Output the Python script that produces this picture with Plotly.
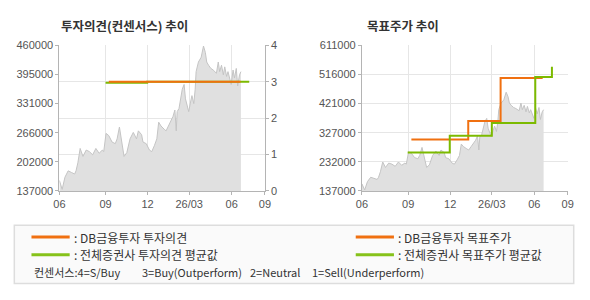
import plotly.graph_objects as go
import pandas as pd

W, H = 590, 300

# ---------------- data ----------------
base_date = pd.Timestamp("2025-05-24")

# daily close (day offset from base_date, price in KRW)
price_days = [0, 6, 12, 19, 26, 33, 36, 40, 45, 51, 58, 65, 72, 79, 86, 93, 96,
              101, 107, 114, 121, 125, 130, 135, 140, 146, 153, 160, 167, 171, 178,
              181, 188, 195, 200, 206, 211, 215, 220, 227, 231, 236, 241, 246, 250,
              253, 255, 259, 266, 270, 273, 280, 284, 287, 291, 294, 296, 301, 307,
              312, 316, 319, 323, 328, 333, 340, 344, 347, 351, 355, 358, 362, 365,
              369, 372, 376, 379, 383, 386, 390, 393]
price_vals = [160400, 140500, 167500, 181700, 178200, 174600, 181700, 199500, 231400,
              213600, 227800, 224300, 217200, 231400, 220700, 227800, 224300,
              264700, 259800, 245600, 242000, 252700, 278900, 245600, 213600, 222200,
              252700, 266900, 252700, 270400, 261900, 245600, 242000, 227800, 224300,
              238500, 252700, 289600, 281100, 274000, 270400, 281100, 291700, 302400,
              316600, 270400, 313000, 320100, 362700, 373300, 341400, 313000, 334300,
              348500, 330700, 362700, 401700, 423000, 433700, 458500, 444300, 423000,
              415900, 408800, 405300, 398200, 423000, 401700, 415900, 394600, 412300,
              391100, 401700, 384000, 373300, 405300, 387500, 408800, 369800, 394600,
              401700]

# investment opinion (4=S/Buy ... 1=Sell)
op_db_days = [107, 392]
op_db_vals = [3.0, 3.0]
op_avg_days = [100, 190, 411]
op_avg_vals = [2.97, 3.0, 3.0]

# target price
tp_db_days = [107, 230, 300, 391]
tp_db_vals = [305000, 365000, 505000, 505000]
tp_avg_days = [99, 190, 281, 375, 411]
tp_avg_vals = [262000, 317000, 358000, 508000, 541000]

# axes
x_tick_dates = ["2025-05-24", "2025-09-01", "2025-12-01", "2026-03-01", "2026-06-01", "2026-08-12"]
x_tick_text = ["06", "09", "12", "26/03", "06", "09"]
x_range = ["2025-05-24", "2026-08-12"]

op_price_ticks = [137000, 201600, 266200, 330800, 395400, 460000]
op_price_text = ["137000", "202000", "266000", "331000", "395000", "460000"]
op_ticks = [0, 1, 2, 3, 4]

tp_price_ticks = [137000, 231800, 326600, 421400, 516200, 611000]
tp_price_text = ["137000", "232000", "327000", "421000", "516000", "611000"]

title_left = "투자의견(컨센서스) 추이"
title_right = "목표주가 추이"
legend_names = [": DB금융투자 투자의견", ": 전체증권사 투자의견 평균값",
                ": DB금융투자 목표주가", ": 전체증권사 목표주가 평균값"]
consensus_parts = ["컨센서스:4=S/Buy", "3=Buy(Outperform)", "2=Neutral", "1=Sell(Underperform)"]

# ---------------- styles ----------------
ORANGE = "#f07010"
GREEN = "#7cba00"
GREEN_LEG = "#86c21a"
AREA_FILL = "#e0e0e0"
AREA_LINE = "#c4c4c4"
GRID = "#e6e6e6"
AXIS = "#b4b4b4"
TICK_FONT = dict(family="Liberation Sans, Noto Sans CJK KR", size=11, color="#555555")
KFONT = "Noto Sans CJK KR, Liberation Sans"


def px(x):
    return x / W


def py(y):
    return 1 - y / H


def to_dates(days):
    return [base_date + pd.Timedelta(days=d) for d in days]


pdates = to_dates(price_days)

fig = go.Figure()

# ---- left chart: opinion ----
fig.add_trace(go.Scatter(x=pdates, y=price_vals, mode="lines", fill="tozeroy",
                         fillcolor=AREA_FILL, line=dict(color=AREA_LINE, width=1),
                         xaxis="x", yaxis="y", showlegend=False, hoverinfo="skip"))
fig.add_trace(go.Scatter(x=to_dates(op_avg_days), y=op_avg_vals, mode="lines",
                         line=dict(color=GREEN, width=2, shape="hv"),
                         xaxis="x", yaxis="y2", showlegend=False))
fig.add_trace(go.Scatter(x=to_dates(op_db_days), y=op_db_vals, mode="lines",
                         line=dict(color=ORANGE, width=2, shape="hv"),
                         xaxis="x", yaxis="y2", showlegend=False))

# ---- right chart: target price ----
fig.add_trace(go.Scatter(x=pdates, y=price_vals, mode="lines", fill="tozeroy",
                         fillcolor=AREA_FILL, line=dict(color=AREA_LINE, width=1),
                         xaxis="x2", yaxis="y3", showlegend=False, hoverinfo="skip"))
fig.add_trace(go.Scatter(x=to_dates(tp_db_days), y=tp_db_vals, mode="lines",
                         line=dict(color=ORANGE, width=2, shape="hv"),
                         xaxis="x2", yaxis="y3", showlegend=False))
fig.add_trace(go.Scatter(x=to_dates(tp_avg_days), y=tp_avg_vals, mode="lines",
                         line=dict(color=GREEN, width=2, shape="hv"),
                         xaxis="x2", yaxis="y3", showlegend=False))

y_dom = [py(192.7), py(41)]
common_x = dict(type="date", range=x_range, tickvals=x_tick_dates, ticktext=x_tick_text,
                showgrid=True, gridcolor=GRID, gridwidth=1, showline=True, linecolor=AXIS,
                ticks="outside", ticklen=3, tickcolor=AXIS, tickfont=TICK_FONT,
                zeroline=False, fixedrange=True)

fig.update_layout(
    width=W, height=H, margin=dict(l=0, r=0, t=0, b=0),
    paper_bgcolor="white", plot_bgcolor="white", showlegend=False,
    xaxis=dict(domain=[px(54.5), px(264.3)], anchor="y", **common_x),
    yaxis=dict(domain=y_dom, anchor="x", range=[137000, 460000], tickvals=op_price_ticks,
               ticktext=op_price_text, showgrid=False, showline=True, linecolor=AXIS,
               ticks="outside", ticklen=3, tickcolor=AXIS, tickfont=TICK_FONT, zeroline=False),
    yaxis2=dict(overlaying="y", side="right", anchor="x", range=[0, 4], tickvals=op_ticks,
                showgrid=True, gridcolor=GRID, showline=True, linecolor=AXIS,
                ticks="outside", ticklen=3, tickcolor=AXIS, tickfont=TICK_FONT, zeroline=False),
    xaxis2=dict(domain=[px(363.3), px(573.3)], anchor="y3", **common_x),
    yaxis3=dict(domain=y_dom, anchor="x2", range=[137000, 611000], tickvals=tp_price_ticks,
                ticktext=tp_price_text, showgrid=True, gridcolor=GRID, showline=True,
                linecolor=AXIS, ticks="outside", ticklen=3, tickcolor=AXIS,
                tickfont=TICK_FONT, zeroline=False),
)

annotations = []
shapes = []
# titles
annotations.append(dict(text="<b>" + title_left + "</b>", x=px(54), y=py(20.5), xref="paper",
                        yref="paper", xanchor="left", yanchor="middle", showarrow=False,
                        font=dict(family=KFONT, size=12.5, color="#333333")))
annotations.append(dict(text="<b>" + title_right + "</b>", x=px(366.5), y=py(20.5), xref="paper",
                        yref="paper", xanchor="left", yanchor="middle", showarrow=False,
                        font=dict(family=KFONT, size=12.5, color="#333333")))

# legend box
shapes.append(dict(type="rect", xref="paper", yref="paper", x0=px(8.5), x1=px(579.5),
                   y0=py(289), y1=py(228.5), fillcolor="#fafafa",
                   line=dict(color="#dddddd", width=1.5), layer="below"))
leg_cols = [26, 357]
leg_rows = [240.7, 259]
leg_colors = [ORANGE, GREEN_LEG]
k = 0
for c in leg_cols:
    for r, col in zip(leg_rows, leg_colors):
        shapes.append(dict(type="line", xref="paper", yref="paper", x0=px(c), x1=px(c + 39),
                           y0=py(r), y1=py(r), line=dict(color=col, width=3)))
        annotations.append(dict(text=legend_names[k], x=px(c + 41), y=py(r), xref="paper",
                                yref="paper", xanchor="left", yanchor="middle", showarrow=False,
                                font=dict(family=KFONT, size=12, color="#333333")))
        k += 1
for t, xpos in zip(consensus_parts, [26.5, 136.5, 247, 310]):
    annotations.append(dict(text=t, x=px(xpos), y=py(277), xref="paper", yref="paper",
                            xanchor="left", yanchor="middle", showarrow=False,
                            font=dict(family=KFONT, size=11, color="#333333")))

fig.update_layout(annotations=annotations, shapes=shapes)
fig.write_html("out.html")
